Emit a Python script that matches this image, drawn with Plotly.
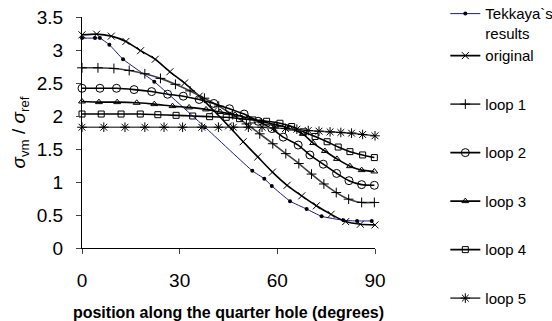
import plotly.graph_objects as go

# ---- data ----
tek_x = [0, 4, 5.5, 8.4, 12.6, 22.2, 37.8, 52.3, 56, 58.3, 63.9, 69, 73.6, 80.3, 84.5, 89]
tek_y = [3.18, 3.18, 3.18, 3.08, 2.86, 2.52, 1.83, 1.17, 1.05, 0.94, 0.71, 0.59, 0.48, 0.42, 0.41, 0.41]

orig_x = [0, 4.5, 9, 13.5, 18, 22.5, 27, 31.5, 36, 40.5, 45, 49.5, 54, 58.5, 63, 67.5, 72, 76.5, 81, 85.5, 90]
orig_y = [3.23, 3.24, 3.21, 3.13, 2.99, 2.86, 2.67, 2.50, 2.30, 2.08, 1.85, 1.61, 1.38, 1.15, 0.95, 0.79, 0.64, 0.51, 0.40, 0.36, 0.35]

l1_x = [0, 4.9, 9.8, 14.5, 19.3, 24.1, 28.7, 33.2, 37.6, 42, 46.3, 50.5, 54.6, 58.6, 62.6, 66.6, 70.5, 74.3, 78.1, 81.9, 85.9, 89.8]
l1_y = [2.73, 2.73, 2.72, 2.69, 2.64, 2.57, 2.48, 2.38, 2.27, 2.15, 2.02, 1.88, 1.73, 1.58, 1.43, 1.28, 1.12, 0.97, 0.84, 0.74, 0.69, 0.69]

l2_x = [0, 5.5, 10.6, 16, 21.4, 26.3, 31.1, 36, 40.5, 45.3, 49.8, 54.1, 58.3, 61.8, 66.4, 70, 74.1, 78.2, 82, 85.9, 89.8]
l2_y = [2.42, 2.42, 2.42, 2.40, 2.37, 2.33, 2.30, 2.25, 2.19, 2.11, 2.03, 1.92, 1.81, 1.68, 1.56, 1.41, 1.27, 1.13, 1.02, 0.96, 0.95]

l3_x = [0, 5.2, 10.8, 16.8, 22.2, 27.8, 32.9, 38.1, 42.4, 47, 51, 55, 59.5, 63.9, 67.8, 71, 74.6, 78.3, 82.3, 85.9, 89.8]
l3_y = [2.22, 2.21, 2.21, 2.20, 2.18, 2.15, 2.13, 2.10, 2.06, 2.02, 1.97, 1.92, 1.87, 1.81, 1.73, 1.59, 1.47, 1.35, 1.24, 1.18, 1.16]

l4_x = [0, 5.9, 12, 17.9, 23.3, 28.9, 34, 39.2, 44.3, 48.4, 52.5, 56.7, 60.8, 64.4, 68, 71.6, 75.3, 78.7, 82.3, 86.2, 89.8]
l4_y = [2.03, 2.03, 2.03, 2.03, 2.02, 2.01, 2.00, 1.99, 1.98, 1.96, 1.94, 1.92, 1.89, 1.84, 1.76, 1.69, 1.61, 1.53, 1.46, 1.41, 1.37]

l5_x = [0, 6.7, 13.2, 19.3, 25.2, 30.9, 36.8, 41.9, 46.5, 51.1, 55.3, 59, 62.5, 66, 69.5, 72.8, 76.2, 79.5, 82.8, 86.2, 90]
l5_y = [1.83, 1.83, 1.83, 1.83, 1.83, 1.83, 1.83, 1.83, 1.83, 1.83, 1.83, 1.82, 1.81, 1.80, 1.78, 1.77, 1.76, 1.75, 1.74, 1.72, 1.70]

names = ["Tekkaya`s<br>results", "original", "loop 1", "loop 2", "loop 3", "loop 4", "loop 5"]
x_ticks = [0, 30, 60, 90]
y_ticks = [0, 0.5, 1, 1.5, 2, 2.5, 3, 3.5]

series = [
    (tek_x, tek_y, names[0], "#1a1a8c", 1, 0.4, "g0", dict(symbol="circle", size=4, color="black")),
    (orig_x, orig_y, names[1], "black", 1.6, 0.6, "g0", dict(symbol="x-thin", size=7, color="black", line=dict(width=1, color="black"))),
    (l1_x, l1_y, names[2], "#404040", 1.6, 0.6, "g1", dict(symbol="cross-thin", size=7, color="black", line=dict(width=1, color="black"))),
    (l2_x, l2_y, names[3], "black", 1.6, 0.6, "g2", dict(symbol="circle-open", size=8, color="black", line=dict(width=1, color="black"))),
    (l3_x, l3_y, names[4], "black", 1.6, 0.6, "g3", dict(symbol="triangle-up-open", size=6, color="black", line=dict(width=1, color="black"))),
    (l4_x, l4_y, names[5], "black", 1.6, 0.6, "g4", dict(symbol="square-open", size=6, color="black", line=dict(width=1, color="black"))),
    (l5_x, l5_y, names[6], "#505050", 1.6, 0.6, "g5", dict(symbol="asterisk-open", size=8, color="black", line=dict(width=1, color="black"))),
]

fig = go.Figure()
for xs, ys, nm, col, w, sm, grp, mk in series:
    fig.add_trace(go.Scatter(
        x=xs, y=ys, name=nm, mode="lines+markers",
        line=dict(color=col, width=w, shape="spline", smoothing=sm),
        marker=mk, cliponaxis=False, legendgroup=grp,
    ))

fig.update_layout(
    width=552, height=321,
    margin=dict(l=82, r=177, t=17, b=73, autoexpand=False),
    paper_bgcolor="white", plot_bgcolor="white",
    font=dict(family="Liberation Sans, Arial, sans-serif", color="black"),
    showlegend=True,
    legend=dict(
        x=1.24, xanchor="left", y=1.085, yanchor="top",
        font=dict(size=15), tracegroupgap=26, itemwidth=30,
        bgcolor="rgba(0,0,0,0)", maxheight=330, valign="top",
    ),
    xaxis=dict(
        range=[0, 90], tickvals=x_ticks, ticks="outside", ticklen=5, ticklabelstandoff=10,
        showline=True, linecolor="black", linewidth=1.2, showgrid=False, zeroline=False,
        tickfont=dict(size=19),
        title=dict(text="<b>position along the quarter hole (degrees)</b>", font=dict(size=16), standoff=16),
    ),
    yaxis=dict(
        range=[0, 3.5], tickvals=y_ticks, ticktext=[str(v) for v in y_ticks], ticks="outside", ticklen=5,
        ticklabelstandoff=9,
        showline=True, linecolor="black", linewidth=1.2, showgrid=False, zeroline=False,
        tickfont=dict(size=19),
        title=dict(text="<i>σ</i><sub>vm</sub> / <i>σ</i><sub>ref</sub>", font=dict(size=19), standoff=6),
    ),
)

fig.write_html("out.html", config={"displayModeBar": False},
               post_script="document.body.style.margin='0';document.body.style.overflow='hidden';")
